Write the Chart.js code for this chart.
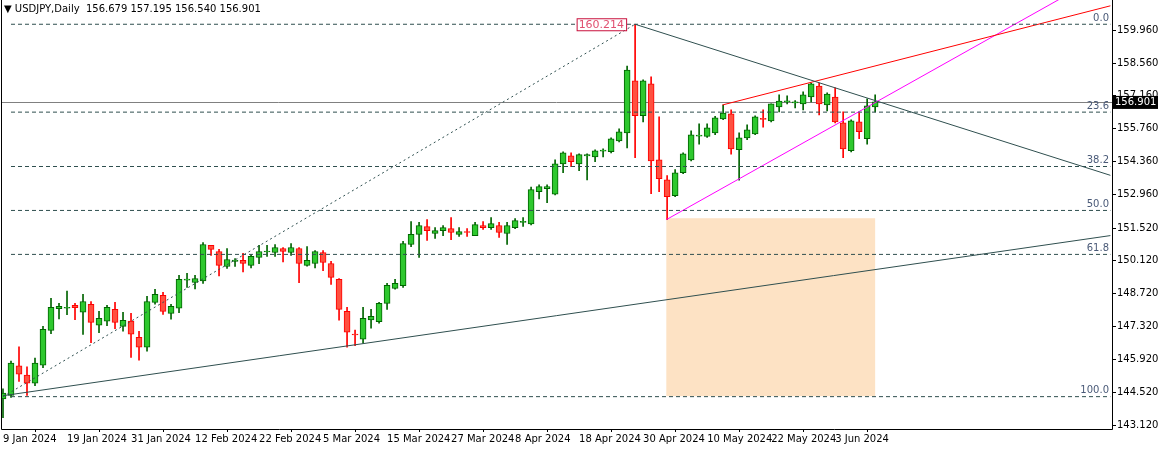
<!DOCTYPE html>
<html><head><meta charset="utf-8">
<script src="https://cdn.jsdelivr.net/npm/chart.js@4.4.1/dist/chart.umd.min.js"></script>
<style>html,body{margin:0;padding:0;background:#fff}#w{width:1158px;height:449px}</style>
</head><body><div id="w"><canvas id="c"></canvas></div>
<script>
const opens =[144.23,144.38,145.64,145.25,144.91,145.67,147.16,148.08,148.10,148.23,147.93,148.27,147.38,147.55,148.05,147.33,147.55,146.86,146.44,148.35,148.65,147.88,148.10,149.30,149.20,149.27,150.78,150.52,149.88,150.10,150.14,149.93,150.27,150.50,150.48,150.65,150.48,150.65,149.93,150.01,150.48,150.01,149.33,147.97,147.00,146.78,147.60,147.53,148.31,148.95,149.06,150.82,151.25,151.58,151.29,151.41,151.50,151.25,151.37,151.20,151.63,151.54,151.63,151.29,151.54,151.76,151.70,153.07,153.20,152.97,154.26,154.60,154.26,154.60,154.56,154.80,154.78,155.24,155.58,157.80,156.31,157.67,154.43,153.58,152.90,153.88,154.43,155.44,155.43,155.58,156.18,156.39,154.86,155.37,155.54,156.20,156.09,156.69,156.90,156.86,156.82,157.11,157.58,156.77,157.11,156.01,154.82,156.05,155.33,156.69];
const highs =[144.66,145.85,146.45,145.60,145.98,147.33,148.52,148.31,148.83,148.31,148.69,148.39,147.97,148.23,148.35,147.93,147.88,147.12,148.61,148.91,148.78,148.27,149.50,149.59,149.50,150.90,150.78,150.61,150.65,150.22,150.44,150.39,150.78,150.78,150.82,150.69,150.86,150.69,150.73,150.56,150.56,150.10,149.37,148.14,147.17,148.14,148.05,148.35,149.16,149.33,150.95,151.80,151.76,151.88,151.54,151.63,151.97,151.54,151.50,151.76,151.80,151.97,151.76,151.76,151.93,151.97,153.27,153.37,153.37,154.43,154.77,154.73,154.69,154.69,154.86,154.90,155.37,155.75,158.43,160.214,157.84,157.97,156.26,153.76,154.01,154.73,155.67,155.97,155.97,156.29,156.77,156.56,155.58,155.92,156.31,156.56,156.82,157.20,157.16,156.96,157.33,157.71,157.71,157.29,157.50,156.48,156.14,156.44,157.03,157.20];
const lows  =[143.43,144.30,144.98,144.38,144.80,145.57,147.02,147.65,147.83,147.61,146.98,146.63,147.06,147.36,147.23,147.12,146.00,145.89,146.27,148.27,147.84,147.63,147.91,148.99,148.93,149.16,150.35,149.48,149.80,149.88,149.65,149.82,150.00,150.31,150.31,150.08,150.35,149.19,149.90,149.82,149.70,149.12,147.59,146.44,146.50,146.61,147.25,147.46,148.05,148.91,148.99,150.73,150.27,150.99,151.08,151.20,151.03,151.16,151.16,151.20,151.46,151.46,151.12,150.82,151.50,151.59,151.65,152.76,152.60,152.93,153.88,154.14,153.97,153.57,154.35,154.56,154.73,155.20,154.94,154.52,156.05,152.99,153.07,151.88,152.86,153.84,154.39,155.10,155.39,155.50,156.14,154.67,153.56,155.29,155.50,155.82,156.05,156.48,156.82,156.65,156.56,156.90,156.35,156.52,156.01,154.52,154.77,155.33,155.10,156.48];
const closes=[144.48,145.76,145.29,144.91,145.76,147.20,148.14,148.18,148.14,148.12,148.39,147.50,147.67,148.14,147.50,147.59,146.99,146.44,148.39,148.69,147.97,148.18,149.33,149.33,149.37,150.82,150.61,149.93,150.18,150.15,150.01,150.31,150.52,150.52,150.69,150.52,150.69,150.01,150.14,150.52,150.05,149.42,148.05,147.08,146.96,147.67,147.76,148.31,149.08,149.16,150.86,151.25,151.63,151.41,151.41,151.54,151.33,151.37,151.33,151.67,151.54,151.71,151.33,151.63,151.84,151.80,153.16,153.29,153.29,154.26,154.73,154.35,154.65,154.65,154.82,154.84,155.33,155.63,158.26,156.31,157.80,154.39,153.63,152.86,153.88,154.69,155.50,155.46,155.80,156.22,156.43,154.90,155.37,155.71,156.26,156.16,156.82,156.94,156.92,156.88,157.20,157.67,156.82,157.24,156.05,154.90,156.09,155.63,156.73,156.901];
const dateLabels=['9 Jan 2024','19 Jan 2024','31 Jan 2024','12 Feb 2024','22 Feb 2024','5 Mar 2024','15 Mar 2024','27 Mar 2024','8 Apr 2024','18 Apr 2024','30 Apr 2024','10 May 2024','22 May 2024','3 Jun 2024'];
const dateIdx=[0,8,16,24,32,40,48,56,64,72,80,88,96,104];
const yTicks=[159.960,158.560,157.160,155.760,154.360,152.960,151.520,150.120,148.720,147.320,145.920,144.520,143.120];
const fibNames=['0.0','23.6','38.2','50.0','61.8','100.0'];
const fibHigh=160.214, fibLow=144.33;
const lastPrice=156.901;
const trendBlack1=[[0,144.37],[138.4,151.20]];
const trendBlack2=[[79,160.214],[138.4,153.77]];
const trendDotted=[[0,144.33],[79,160.214]];
const trendRed=[[89.9,156.77],[138.4,161.0]];
const trendMagenta=[[82.9,151.88],[138.4,162.5]];
const rectBox=[82.9,109,151.94,144.35];
const XMIN=-0.25, XMAX=138.6, YMIN=142.95, YMAX=160.95;

const up=i=>closes[i]>=opens[i];
const N=opens.length;
const idx=[...Array(N).keys()];
const pts=a=>a.map(p=>({x:p[0],y:p[1]}));
const CLIP={left:0,top:8,right:0,bottom:0};
const lineDs=(d,c,dash)=>({type:'line',data:pts(d),borderColor:c,borderWidth:1,borderDash:dash||[],pointRadius:0,fill:false,order:0,clip:CLIP});
const fibDs=fibNames.map(n=>{const v=fibHigh-(fibHigh-fibLow)*parseFloat(n)/100;return lineDs([[1,v],[138.4,v]],'#2f4f4f',[4,3]);});

const plug={id:'extra',
beforeDatasetsDraw(ch){const {ctx,scales:{x,y},chartArea:a}=ch;ctx.save();
 ctx.fillStyle='#fde2c4';const x1=x.getPixelForValue(rectBox[0]),x2=x.getPixelForValue(rectBox[1]),y1=y.getPixelForValue(rectBox[2]),y2=y.getPixelForValue(rectBox[3]);
 ctx.fillRect(x1,y1,x2-x1,y2-y1);
 const py=Math.round(y.getPixelForValue(lastPrice))+0.5;ctx.strokeStyle='#808080';ctx.lineWidth=1;ctx.beginPath();ctx.moveTo(a.left,py);ctx.lineTo(a.right,py);ctx.stroke();ctx.restore();},
afterDraw(ch){const {ctx,scales:{x,y},chartArea:a}=ch;ctx.save();
 ctx.strokeStyle='#000';ctx.lineWidth=1;ctx.beginPath();ctx.moveTo(a.left+0.5,0);ctx.lineTo(a.left+0.5,a.bottom+0.5);ctx.lineTo(a.right+0.5,a.bottom+0.5);ctx.lineTo(a.right+0.5,0);ctx.stroke();
 ctx.font='10px "DejaVu Sans"';ctx.textBaseline='bottom';ctx.textAlign='right';ctx.fillStyle='#4a5a78';
 fibNames.forEach(n=>{const v=fibHigh-(fibHigh-fibLow)*parseFloat(n)/100;ctx.fillText(n,a.right-3,y.getPixelForValue(v)-1);});
 const hx=x.getPixelForValue(79)-9, hy=y.getPixelForValue(fibHigh);
 ctx.font='11px "DejaVu Sans"';const t='160.214';const tw=ctx.measureText(t).width;
 ctx.fillStyle='#fff';ctx.fillRect(hx-tw-4,hy-6,tw+4,12);ctx.strokeStyle='#c8103c';ctx.strokeRect(hx-tw-4+0.5,hy-6+0.5,tw+4,12);
 ctx.fillStyle='#e05070';ctx.textBaseline='middle';ctx.fillText(t,hx-2,hy+0.5);
 const py=y.getPixelForValue(lastPrice);ctx.fillStyle='#000';ctx.fillRect(a.right+1,py-6,1158-a.right,13);
 ctx.font='10px "DejaVu Sans"';ctx.fillStyle='#fff';ctx.textAlign='left';ctx.fillText(lastPrice.toFixed(3),a.right+3,py+0.5);
 ctx.fillStyle='#000';ctx.fillText('▼ USDJPY,Daily  156.679 157.195 156.540 156.901',4,9);
 ctx.restore();}};

new Chart(document.getElementById('c'),{
 type:'bar',
 data:{datasets:[
  {type:'bar',data:idx.map(i=>({x:i,y:[lows[i],highs[i]]})),backgroundColor:idx.map(i=>up(i)?'#006400':'#ff0000'),barThickness:1,grouped:false,order:2,clip:CLIP},
  {type:'bar',data:idx.map(i=>({x:i,y:[opens[i],closes[i]]})),backgroundColor:idx.map(i=>up(i)?'#2ec82e':'#ff5040'),borderColor:idx.map(i=>up(i)?'#006400':'#ff0000'),borderWidth:1,borderSkipped:false,barThickness:6,grouped:false,minBarLength:1,order:1},
  ...fibDs,
  lineDs(trendDotted,'#2f4f4f',[2,3]),
  lineDs(trendBlack1,'#2f4f4f'),
  lineDs(trendBlack2,'#2f4f4f'),
  lineDs(trendRed,'#ff0000'),
  lineDs(trendMagenta,'#ff00ff')
 ]},
 options:{responsive:true,maintainAspectRatio:false,animation:false,
  layout:{padding:{top:1,left:1,right:0,bottom:0}},
  plugins:{legend:{display:false},tooltip:{enabled:false}},
  scales:{
   x:{type:'linear',min:XMIN,max:XMAX,offset:false,
    afterBuildTicks:s=>{s.ticks=dateIdx.map(v=>({value:v}));},
    afterFit:s=>{s.height=20;},
    grid:{drawOnChartArea:false,drawTicks:true,tickLength:3,color:'#000'},border:{display:false},
    ticks:{autoSkip:false,maxRotation:0,align:'start',padding:1,color:'#000',font:{family:'DejaVu Sans',size:10},
     callback:v=>{const k=dateIdx.indexOf(v);return k>=0?dateLabels[k]:'';}}},
   y:{position:'right',min:YMIN,max:YMAX,
    afterBuildTicks:s=>{s.ticks=yTicks.map(v=>({value:v}));},
    afterFit:s=>{s.width=46;},
    grid:{drawOnChartArea:false,drawTicks:true,tickLength:4,color:'#000'},border:{display:false},
    ticks:{autoSkip:false,padding:1,color:'#000',font:{family:'DejaVu Sans',size:10},callback:v=>v.toFixed(3)}}
  }},
 plugins:[plug]
});
</script></body></html>
